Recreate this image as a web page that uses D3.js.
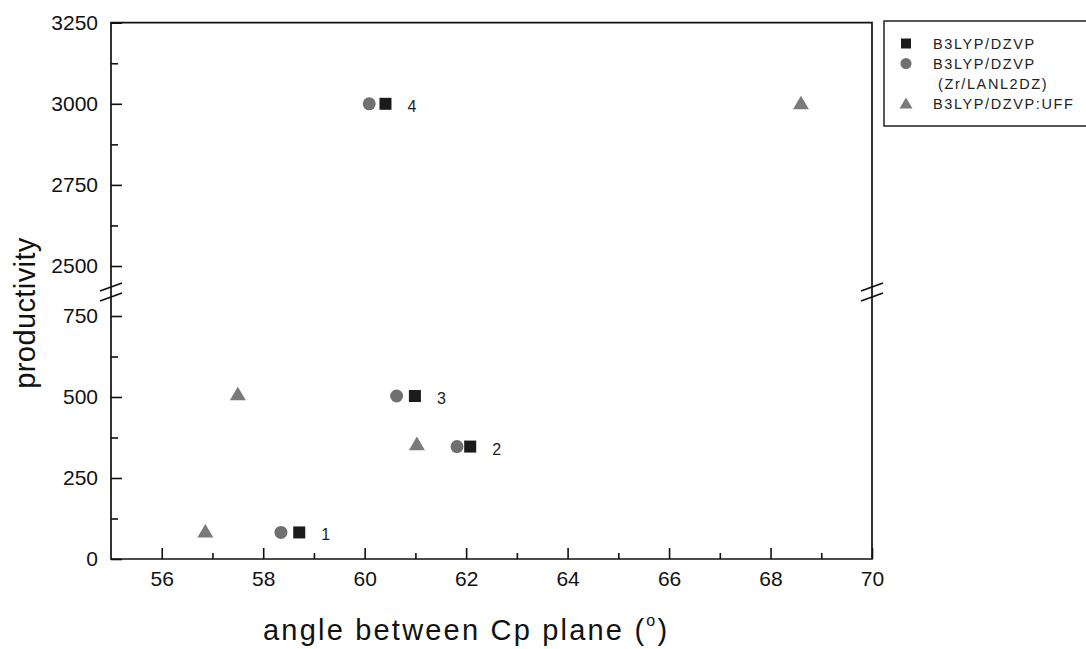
<!DOCTYPE html>
<html>
<head>
<meta charset="utf-8">
<title>productivity vs angle</title>
<script src="https://cdn.jsdelivr.net/npm/d3@7"></script>
<style>
  body { margin: 0; background: #fff; }
  svg { font-family: "Liberation Sans", Arial, sans-serif; }
  .tick text { font-size: 21px; fill: #111; }
  .tick line { stroke: #111; stroke-width: 1.6; }
</style>
</head>
<body>
<div id="chart"></div>
<script>
// series data (angle in degrees, productivity)
var seriesNames = ["B3LYP/DZVP", "B3LYP/DZVP", "B3LYP/DZVP:UFF"];
var angleDZVP = [58.71, 62.08, 60.99, 60.41];
var prodDZVP  = [82, 347, 503, 3000];
var angleLANL = [58.35, 61.82, 60.63, 60.09];
var prodLANL  = [82, 347, 503, 3000];
var angleUFF  = [56.86, 57.50, 61.03, 68.60];
var prodUFF   = [87, 511, 357, 3004];
var pointLabels = ["1", "2", "3", "4"];

var xMajor = [56, 58, 60, 62, 64, 66, 68, 70];
var xMinor = [57, 59, 61, 63, 65, 67, 69];
var yLowMajor = [0, 250, 500, 750];
var yLowMinor = [125, 375, 625];
var yHighMajor = [2500, 2750, 3000, 3250];
var yHighMinor = [2625, 2875, 3125];

var w = 1086, h = 649;
var pLeft = 111, pRight = 872, pTop = 22.7, pBottom = 559, breakY = 292;

var svg = d3.select('#chart').append('svg')
    .attr('width', w)
    .attr('height', h);

var x = d3.scaleLinear().domain([55, 70]).range([pLeft, pRight]);
var yLow = d3.scaleLinear().domain([0, 750]).range([pBottom, 316]);
var yHigh = d3.scaleLinear().domain([2500, 3250]).range([266, pTop]);
function y(v){ return v > 1500 ? yHigh(v) : yLow(v); }

// axes
function fmt(d){ return d; }
svg.append('g').attr('transform', 'translate(0,' + pBottom + ')')
    .call(d3.axisBottom(x).tickValues(xMajor).tickSize(-11).tickPadding(12).tickFormat(fmt))
    .call(function(g){ g.select('.domain').remove(); });
svg.append('g').attr('transform', 'translate(0,' + pBottom + ')')
    .call(d3.axisBottom(x).tickValues(xMinor).tickSize(-6).tickFormat(''))
    .call(function(g){ g.select('.domain').remove(); });

[[yLow, yLowMajor, yLowMinor], [yHigh, yHighMajor, yHighMinor]].forEach(function(s){
  svg.append('g').attr('transform', 'translate(' + pLeft + ',0)')
      .call(d3.axisLeft(s[0]).tickValues(s[1]).tickSize(-11).tickPadding(13).tickFormat(fmt))
      .call(function(g){ g.select('.domain').remove(); });
  svg.append('g').attr('transform', 'translate(' + pLeft + ',0)')
      .call(d3.axisLeft(s[0]).tickValues(s[2]).tickSize(-7).tickFormat(''))
      .call(function(g){ g.select('.domain').remove(); });
});

// frame
svg.append('path')
    .attr('d', 'M' + pLeft + ',' + pTop + 'V' + pBottom + 'H' + pRight + 'V' + pTop + 'Z')
    .attr('fill', 'none')
    .attr('stroke', '#111')
    .attr('stroke-width', 1.7);

// axis break marks
[pLeft, pRight].forEach(function(ax){
  [-5, 5].forEach(function(off){
    svg.append('line')
        .attr('x1', ax - 11).attr('y1', breakY + off + 4)
        .attr('x2', ax + 11).attr('y2', breakY + off - 4)
        .attr('stroke', '#111').attr('stroke-width', 1.7);
  });
});

// markers
var sq = 12, cr = 6.5, tri = 16;
function square(g, cx, cy, s, col){
  g.append('rect').attr('x', cx - s/2).attr('y', cy - s/2)
      .attr('width', s).attr('height', s).attr('fill', col);
}
function circle(g, cx, cy, r, col){
  g.append('circle').attr('cx', cx).attr('cy', cy).attr('r', r).attr('fill', col);
}
function triangle(g, cx, cy, s, col){
  var hh = s * 0.85;
  g.append('path')
      .attr('d', 'M' + cx + ',' + (cy - hh/2) + 'L' + (cx + s/2) + ',' + (cy + hh/2) + 'L' + (cx - s/2) + ',' + (cy + hh/2) + 'Z')
      .attr('fill', col);
}

var cSq = '#1b1b1b', cCi = '#707070', cTr = '#7a7a7a';
var marks = svg.append('g');
angleUFF.forEach(function(a, i){ triangle(marks, x(a), y(prodUFF[i]), tri, cTr); });
angleLANL.forEach(function(a, i){ circle(marks, x(a), y(prodLANL[i]), cr, cCi); });
angleDZVP.forEach(function(a, i){ square(marks, x(a), y(prodDZVP[i]), sq, cSq); });

// number labels beside squares
marks.selectAll('text.num')
    .data(pointLabels)
    .enter().append('text')
    .attr('x', function(d, i){ return x(angleDZVP[i]) + 22; })
    .attr('y', function(d, i){ return y(prodDZVP[i]) + 8; })
    .attr('font-size', 16)
    .attr('fill', '#222')
    .text(function(d){ return d; });

// axis titles
var xt = svg.append('text')
    .attr('x', 263).attr('y', 640)
    .attr('font-size', 29)
    .attr('letter-spacing', 2.2)
    .attr('fill', '#111');
xt.append('tspan').text('angle between Cp plane (');
xt.append('tspan').attr('font-size', 16).attr('dy', -14).text('o');
xt.append('tspan').attr('dy', 14).text(')');

svg.append('text')
    .attr('transform', 'translate(35,313) rotate(-90)')
    .attr('text-anchor', 'middle')
    .attr('font-size', 29)
    .attr('letter-spacing', 0.4)
    .attr('fill', '#111')
    .text('productivity');

// legend
var lg = svg.append('g');
lg.append('rect')
    .attr('x', 884).attr('y', 21).attr('width', 210).attr('height', 105)
    .attr('fill', 'none').attr('stroke', '#222').attr('stroke-width', 1.5);
square(lg, 906, 43.5, 10, cSq);
circle(lg, 906, 63.5, 5.5, cCi);
triangle(lg, 906, 103, 13, cTr);
var legTexts = [[933, 48.5, seriesNames[0]], [933, 68.5, seriesNames[1]], [938, 89, '(Zr/LANL2DZ)'], [933, 109, seriesNames[2]]];
lg.selectAll('text.leg')
    .data(legTexts)
    .enter().append('text')
    .attr('x', function(d){ return d[0]; })
    .attr('y', function(d){ return d[1]; })
    .attr('font-size', 14.5)
    .attr('letter-spacing', 1.6)
    .attr('fill', '#222')
    .text(function(d){ return d[2]; });
</script>
</body>
</html>
